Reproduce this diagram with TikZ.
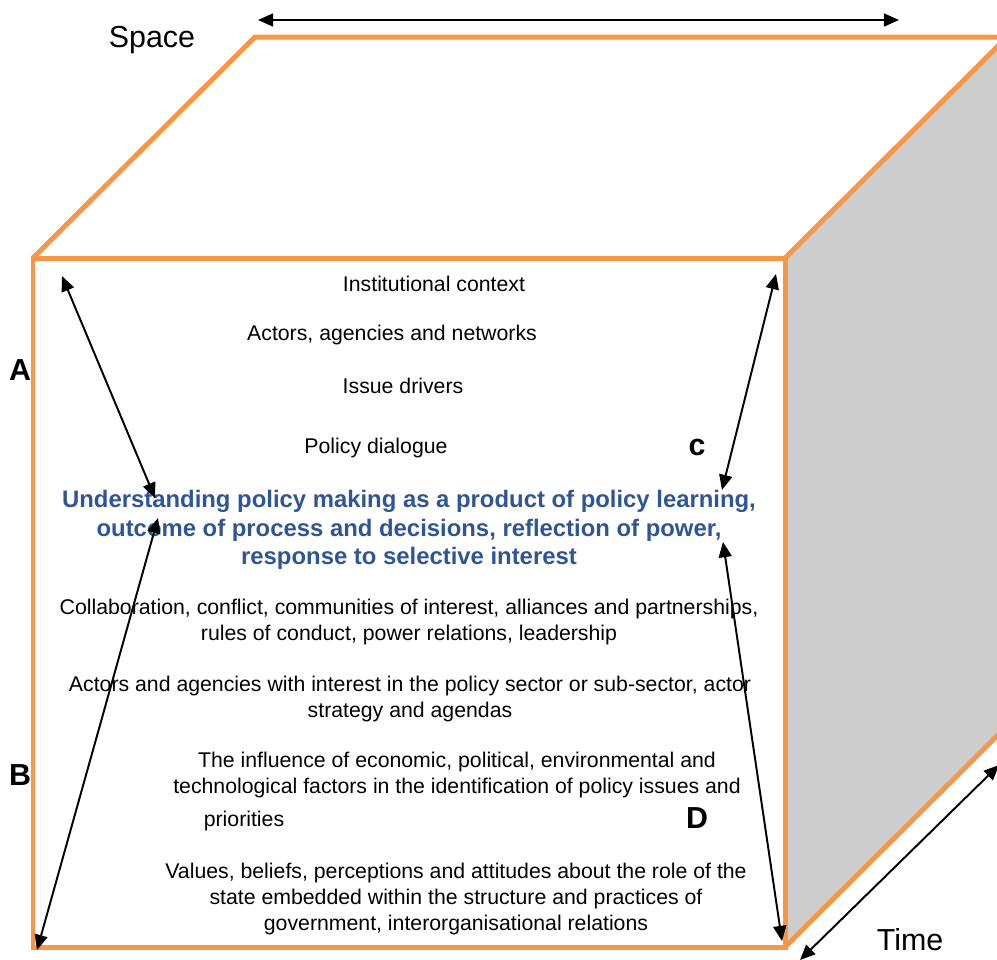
\documentclass[tikz,border=0pt]{standalone}
\usepackage{fontspec}
\setmainfont{Liberation Sans}
\usepackage{xcolor}
\usepackage{tikz}
\usetikzlibrary{arrows.meta,positioning,calc}
\definecolor{cubeedge}{HTML}{F79646}
\definecolor{sideface}{HTML}{CDCDCD}
\definecolor{focusblue}{HTML}{2F5597}

\tikzset{
  edge/.style={cubeedge,line width=2.3pt,line join=miter},
  dimarrow/.style={line width=0.9pt,{Triangle[length=7pt,width=6pt]}-{Triangle[length=7pt,width=6pt]}},
  body/.style={font=\fontsize{9.8}{12}\selectfont,inner sep=0pt,align=center},
  focus/.style={font=\fontsize{11}{13}\selectfont\bfseries,text=focusblue,inner sep=0pt,align=center},
  tag/.style={font=\fontsize{14}{16}\selectfont\bfseries,inner sep=0pt},
  axis/.style={font=\fontsize{14}{16}\selectfont,inner sep=0pt}
}

\begin{document}
\begin{tikzpicture}[x=0.4608pt,y=-0.4608pt]
\useasboundingbox (0,0) rectangle (997,959);
\clip (0,0) rectangle (997,959);
% cube
\fill[sideface] (785,258)--(1007,37)--(1007,726)--(785,947)--cycle;
\draw[edge] (33,258)--(255,37)--(1007,37);
\draw[edge] (785,258)--(1007,37);
\draw[edge] (785,947)--(1007,726);
\draw[edge] (33,258) rectangle (785,947);
% axes
\coordinate (spaceL) at (258,20); \coordinate (spaceR) at (899,20);
\coordinate (timeL) at (800,960); \coordinate (timeR) at (999,765);
\draw[dimarrow] (spaceL)--(spaceR);
\draw[dimarrow] (timeL)--(timeR);
\node[axis] (space) at (152,40) {Space};
\node[axis] (time) at (910,940) {Time};
% contents of the front face
\node[body] (inst) at (434,284) {Institutional context};
\node[body] (actors) at (392,335) {Actors, agencies and networks};
\node[body] (drivers) at (403,386) {Issue drivers};
\node[body] (dialogue) at (376,448) {Policy dialogue};
\node[focus] (understand) at (409,530) {Understanding policy making as a product of policy learning,\\outcome of process and decisions, reflection of power,\\response to selective interest};
\node[body] (collab) at (409,622) {Collaboration, conflict, communities of interest, alliances and partnerships,\\rules of conduct, power relations, leadership};
\node[body] (agencies) at (410,699) {Actors and agencies with interest in the policy sector or sub-sector, actor\\strategy and agendas};
\node[body] (influence) at (457,775) {The influence of economic, political, environmental and\\technological factors in the identification of policy issues and};
\node[body] (priorities) at (244,821) {priorities};
\node[body] (values) at (456,899) {Values, beliefs, perceptions and attitudes about the role of the\\state embedded within the structure and practices of\\government, interorganisational relations};
% level arrows
\coordinate (aTop) at (62,276); \coordinate (aBot) at (155,498);
\coordinate (bTop) at (158,518); \coordinate (bBot) at (37,950);
\coordinate (cTop) at (776,274); \coordinate (cBot) at (722,490);
\coordinate (dTop) at (723,542); \coordinate (dBot) at (782,941);
\draw[dimarrow] (aTop)--(aBot);
\draw[dimarrow] (bTop)--(bBot);
\draw[dimarrow] (cTop)--(cBot);
\draw[dimarrow] (dTop)--(dBot);
\node[tag] (tagA) at (20,370) {A};
\node[tag] (tagB) at (20,775) {B};
\node[tag] (tagC) at (697,447) {c};
\node[tag] (tagD) at (697,818) {D};
\end{tikzpicture}
\end{document}
